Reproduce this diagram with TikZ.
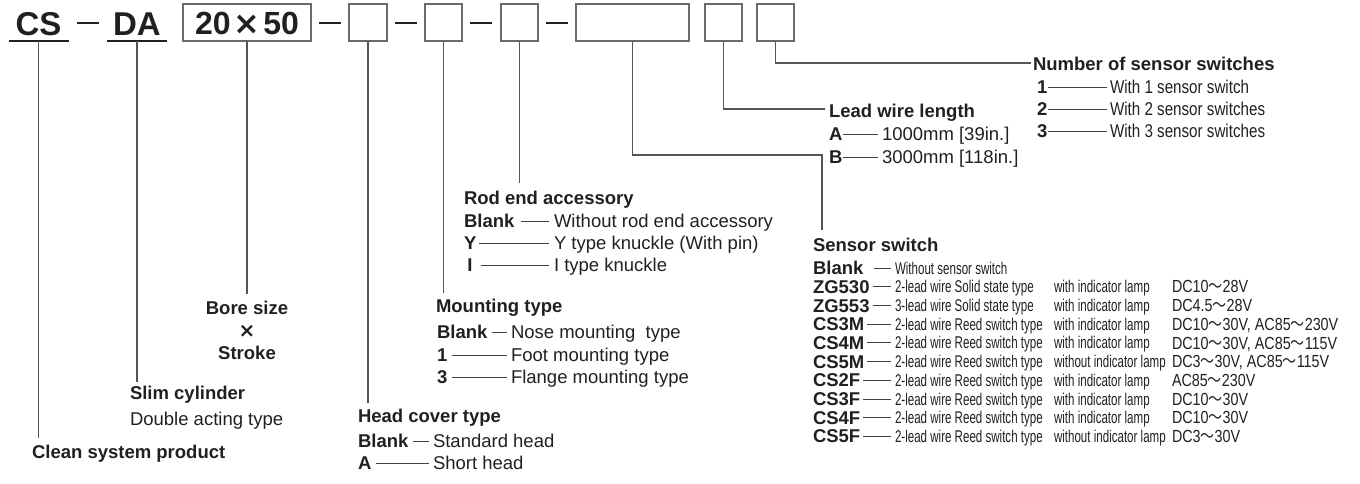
\documentclass[tikz,border=0pt]{standalone}
\usepackage{fontspec}
\setmainfont{Liberation Sans}
\newfontfamily\narrowfont[FakeStretch=0.68]{Liberation Sans}
\newfontfamily\voltfont[FakeStretch=0.82]{Liberation Sans}
\newfontfamily\midfont[FakeStretch=0.82]{Liberation Sans}
\newfontfamily\cjkn[FakeStretch=0.80]{Noto Sans CJK JP}
\newfontfamily\djv{DejaVu Sans}
\newcommand\wv{{\cjkn ～}}
\definecolor{ink}{HTML}{231F20}
\definecolor{wire}{HTML}{555555}
\definecolor{boxc}{HTML}{6A6A6A}
\begin{document}
\begin{tikzpicture}[x=1pt,y=-1pt,
  every node/.style={inner sep=0pt, outer sep=0pt, text=ink},
  big/.style={font=\fontsize{33}{35}\selectfont\bfseries, text height=23pt, text depth=0pt},
  hd/.style={anchor=west, font=\fontsize{18.5}{20}\selectfont\bfseries, text height=13.3pt, text depth=0pt},
  tx/.style={anchor=west, font=\fontsize{18.5}{20}\selectfont, text height=13.3pt, text depth=0pt},
  mtx/.style={anchor=west, font=\fontsize{18.5}{20}\selectfont\midfont, text height=13.3pt, text depth=0pt},
  ntx/.style={anchor=west, font=\fontsize{17}{19}\selectfont\narrowfont, text height=12.2pt, text depth=0pt},
  vtx/.style={anchor=west, font=\fontsize{17.5}{19}\selectfont\voltfont, text height=12.5pt, text depth=0pt},
  codeb/.style={anchor=west, font=\fontsize{18.5}{20}\selectfont\bfseries, text height=13.3pt, text depth=0pt},
  pbox/.style={draw=boxc, line width=1.3pt, minimum height=37pt},
  wirel/.style={draw=wire, line width=1.1pt},
  leader/.style={draw=ink!85, line width=0.8pt},
  topdash/.style={draw=ink, line width=1.5pt},
  uline/.style={draw=ink, line width=1.5pt}]
\useasboundingbox (0,0) rectangle (1360,483);

% ---------- top code line ----------
\node[big] (cs) at (38.5,24) {CS};
\draw[uline] (9,41) -- (69,41);
\draw[topdash] (77,23) -- (99,23);
\node[big] (da) at (137,24) {DA};
\draw[uline] (107,41) -- (167,41);
\node[pbox, big, font=\fontsize{32}{34}\selectfont\bfseries, minimum width=128pt] (b1) at (247,22.5) {20\kern3pt{\djv\bfseries ×}\kern3pt50};
\draw[topdash] (319,23) -- (341,23);
\node[pbox, minimum width=38pt] (b2) at (368,22.5) {};
\draw[topdash] (395,23) -- (417,23);
\node[pbox, minimum width=37pt] (b3) at (443.5,22.5) {};
\draw[topdash] (470,23) -- (492,23);
\node[pbox, minimum width=37pt] (b4) at (519.5,22.5) {};
\draw[topdash] (546,23) -- (568,23);
\node[pbox, minimum width=113pt] (b5) at (632.5,22.5) {};
\node[pbox, minimum width=37pt] (b6) at (723.5,22.5) {};
\node[pbox, minimum width=37pt] (b7) at (775.5,22.5) {};

% ---------- connector end points ----------
\coordinate (csS) at (38.5,41);
\coordinate (daS) at (137,41);
\coordinate (csE) at (38.5,438);
\coordinate (daE) at (137,382);
\coordinate (b1E) at (247,294);
\coordinate (b2E) at (368,403);
\coordinate (b3E) at (443.5,293);
\coordinate (b4E) at (519.5,183);
\coordinate (b5K) at (822,155);
\coordinate (b5E) at (822,230);
\coordinate (b6E) at (825,109);
\coordinate (b7E) at (1031,63);

\draw[wirel] (csS) -- (csE);
\draw[wirel] (daS) -- (daE);
\draw[wirel] (b1.south) -- (b1E);
\draw[wirel] (b2.south) -- (b2E);
\draw[wirel] (b3.south) -- (b3E);
\draw[wirel] (b4.south) -- (b4E);
\draw[wirel] (b5.south) |- (b5K) -- (b5E);
\draw[wirel] (b6.south) |- (b6E);
\draw[wirel] (b7.south) |- (b7E);

% ---------- Number of sensor switches ----------
\node[hd] (nsh) at (1033,64) {Number of sensor switches};
\foreach \n/\t/\y in {1/With 1 sensor switch/87, 2/With 2 sensor switches/109, 3/With 3 sensor switches/131}{
  \node[codeb] (nsc\n) at (1037,\y) {\n};
  \node[mtx] (nsd\n) at (1110,\y) {\t};
  \draw[leader] ([xshift=-62pt]nsd\n.west) -- ([xshift=-3pt]nsd\n.west);
}

% ---------- Lead wire length ----------
\node[hd] (lwh) at (829,111) {Lead wire length};
\node[codeb] (lwa) at (829,134) {A};
\node[tx] (lwad) at (882,134) {1000mm [39in.]};
\draw[leader] ([xshift=1pt]lwa.east) -- ([xshift=-4pt]lwad.west);
\node[codeb] (lwb) at (829,157) {B};
\node[tx] (lwbd) at (882,157) {3000mm [118in.]};
\draw[leader] ([xshift=1pt]lwb.east) -- ([xshift=-4pt]lwbd.west);

% ---------- Rod end accessory ----------
\node[hd] (reh) at (464,198) {Rod end accessory};
\node[codeb] (rec1) at (464,221) {Blank};
\node[tx] (red1) at (554,221) {Without rod end accessory};
\draw[leader] ([xshift=7pt]rec1.east) -- ([xshift=-5pt]red1.west);
\node[codeb] (rec2) at (464,243) {Y};
\node[tx] (red2) at (554,243) {Y type knuckle (With pin)};
\draw[leader] ([xshift=3pt]rec2.east) -- ([xshift=-5pt]red2.west);
\node[codeb, anchor=center] (rec3) at (470,265) {I};
\node[tx] (red3) at (554,265) {I type knuckle};
\draw[leader] ([xshift=8pt]rec3.east) -- ([xshift=-5pt]red3.west);

% ---------- Sensor switch ----------
\node[hd] (ssh) at (813,245) {Sensor switch};
\node[codeb] (ssc0) at (813,268) {Blank};
\node[ntx] (ssd0) at (895,268) {Without sensor switch};
\draw[leader] ([xshift=11pt]ssc0.east) -- ([xshift=-4pt]ssd0.west);
\foreach \i/\c/\d/\l/\v in {
 1/ZG530/2-lead wire Solid state type/with indicator lamp/DC10\wv 28V,
 2/ZG553/3-lead wire Solid state type/with indicator lamp/DC4.5\wv 28V,
 3/CS3M/2-lead wire Reed switch type/with indicator lamp/{DC10\wv 30V, AC85\wv 230V},
 4/CS4M/2-lead wire Reed switch type/with indicator lamp/{DC10\wv 30V, AC85\wv 115V},
 5/CS5M/2-lead wire Reed switch type/without indicator lamp/{DC3\wv 30V, AC85\wv 115V},
 6/CS2F/2-lead wire Reed switch type/with indicator lamp/AC85\wv 230V,
 7/CS3F/2-lead wire Reed switch type/with indicator lamp/DC10\wv 30V,
 8/CS4F/2-lead wire Reed switch type/with indicator lamp/DC10\wv 30V,
 9/CS5F/2-lead wire Reed switch type/without indicator lamp/DC3\wv 30V}{
  \pgfmathsetmacro\yy{268+18.7*\i}
  \node[codeb] (ssc\i) at (813,\yy) {\c};
  \node[ntx] (ssd\i) at (895,\yy) {\d};
  \node[ntx] (ssl\i) at (1054,\yy) {\l};
  \node[vtx] (ssv\i) at (1172,\yy) {\v};
  \draw[leader] ([xshift=3pt]ssc\i.east) -- ([xshift=-4pt]ssd\i.west);
}

% ---------- Mounting type ----------
\node[hd] (mth) at (436,306) {Mounting type};
\node[codeb] (mtc1) at (437,332) {Blank};
\node[tx] (mtd1) at (511,332) {Nose mounting\ \ type};
\draw[leader] ([xshift=5pt]mtc1.east) -- ([xshift=-4pt]mtd1.west);
\node[codeb] (mtc2) at (437,355) {1};
\node[tx] (mtd2) at (511,355) {Foot mounting type};
\draw[leader] ([xshift=5pt]mtc2.east) -- ([xshift=-4pt]mtd2.west);
\node[codeb] (mtc3) at (437,377) {3};
\node[tx] (mtd3) at (511,377) {Flange mounting type};
\draw[leader] ([xshift=5pt]mtc3.east) -- ([xshift=-4pt]mtd3.west);

% ---------- Bore size x Stroke ----------
\node[hd, anchor=center] (bs1) at (247,308) {Bore size};
\node[anchor=center, font=\fontsize{20}{22}\selectfont\djv\bfseries] (bs2) at (247,331) {×};
\node[hd, anchor=center] (bs3) at (247,353) {Stroke};

% ---------- Slim cylinder ----------
\node[hd] (slim) at (130,393) {Slim cylinder};
\node[tx] (dact) at (130,419) {Double acting type};

% ---------- Head cover type ----------
\node[hd] (hch) at (358,416) {Head cover type};
\node[codeb] (hcc1) at (358,441) {Blank};
\node[tx] (hcd1) at (433,441) {Standard head};
\draw[leader] ([xshift=5pt]hcc1.east) -- ([xshift=-4pt]hcd1.west);
\node[codeb] (hcc2) at (358,463) {A};
\node[tx] (hcd2) at (433,463) {Short head};
\draw[leader] ([xshift=5pt]hcc2.east) -- ([xshift=-4pt]hcd2.west);

% ---------- Clean system product ----------
\node[hd] (clean) at (32,452) {Clean system product};
\end{tikzpicture}
\end{document}
